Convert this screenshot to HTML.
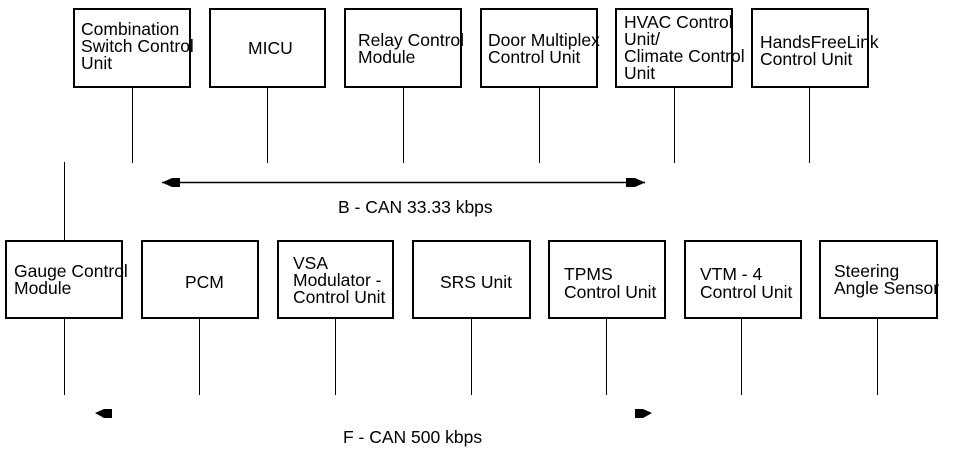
<!DOCTYPE html>
<html><head><meta charset="utf-8"><style>
html,body{margin:0;padding:0;background:#fff;}
svg{display:block;}
text{font-family:"Liberation Sans",sans-serif;font-size:17.5px;fill:#000;}
</style></head><body>
<svg width="960" height="452" viewBox="0 0 960 452" xmlns="http://www.w3.org/2000/svg">
<g fill="none" stroke="#000" stroke-width="2">
<rect x="74" y="9" width="116" height="78"/>
<rect x="210" y="9" width="115" height="78"/>
<rect x="345" y="9" width="116" height="78"/>
<rect x="481" y="9" width="116" height="78"/>
<rect x="616" y="9" width="116" height="78"/>
<rect x="752" y="9" width="116" height="78"/>
<rect x="6" y="241" width="116" height="77"/>
<rect x="142" y="241" width="116" height="77"/>
<rect x="278" y="241" width="115" height="77"/>
<rect x="413" y="241" width="117" height="77"/>
<rect x="549" y="241" width="116" height="77"/>
<rect x="685" y="241" width="116" height="77"/>
<rect x="820" y="241" width="117" height="77"/>
</g>
<g stroke="#000" stroke-width="1">
<line x1="132.5" y1="88" x2="132.5" y2="163"/>
<line x1="267.5" y1="88" x2="267.5" y2="163"/>
<line x1="403.5" y1="88" x2="403.5" y2="163"/>
<line x1="539.5" y1="88" x2="539.5" y2="163"/>
<line x1="674.5" y1="88" x2="674.5" y2="163"/>
<line x1="809.5" y1="88" x2="809.5" y2="163"/>
<line x1="64.5" y1="162" x2="64.5" y2="240"/>
<line x1="64.5" y1="319" x2="64.5" y2="395"/>
<line x1="199.5" y1="319" x2="199.5" y2="395"/>
<line x1="335.5" y1="319" x2="335.5" y2="395"/>
<line x1="471.5" y1="319" x2="471.5" y2="395"/>
<line x1="606.5" y1="319" x2="606.5" y2="395"/>
<line x1="741.5" y1="319" x2="741.5" y2="395"/>
<line x1="877.5" y1="319" x2="877.5" y2="395"/>
</g>
<line x1="162" y1="182.5" x2="645" y2="182.5" stroke="#000" stroke-width="1.5"/>
<g fill="#000">
<polygon points="162,182.5 172,178 180,178 180,187 172,187"/>
<polygon points="645,182.5 635,178 626,178 626,187 635,187"/>
<polygon points="95,413 104,409 112,409 112,418 104,418"/>
<polygon points="652,413 643,409 635,409 635,418 643,418"/>
</g>
<text x="81" y="35">Combination</text>
<text x="81" y="52">Switch Control</text>
<text x="81" y="69">Unit</text>
<text x="248" y="54">MICU</text>
<text x="358" y="46">Relay Control</text>
<text x="358" y="63">Module</text>
<text x="488" y="46">Door Multiplex</text>
<text x="488" y="63">Control Unit</text>
<text x="624" y="28">HVAC Control</text>
<text x="624" y="45">Unit/</text>
<text x="624" y="62">Climate Control</text>
<text x="624" y="79">Unit</text>
<text x="760" y="48">HandsFreeLink</text>
<text x="760" y="65">Control Unit</text>
<text x="338" y="213">B - CAN 33.33 kbps</text>
<text x="14" y="277">Gauge Control</text>
<text x="14" y="294">Module</text>
<text x="185" y="288">PCM</text>
<text x="293" y="269">VSA</text>
<text x="293" y="286">Modulator -</text>
<text x="293" y="303">Control Unit</text>
<text x="440" y="288">SRS Unit</text>
<text x="564" y="280">TPMS</text>
<text x="564" y="298">Control Unit</text>
<text x="700" y="280">VTM - 4</text>
<text x="700" y="298">Control Unit</text>
<text x="834" y="277">Steering</text>
<text x="834" y="294">Angle Sensor</text>
<text x="343" y="443">F - CAN 500 kbps</text>
</svg>
</body></html>
